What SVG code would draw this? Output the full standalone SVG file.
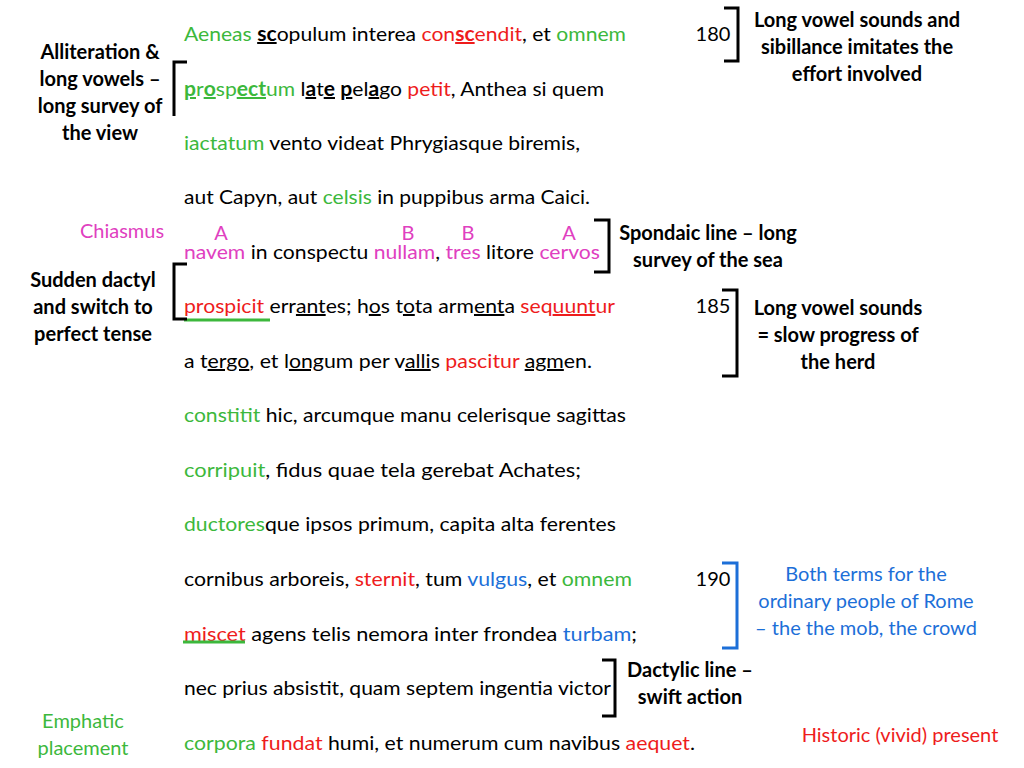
<svg xmlns="http://www.w3.org/2000/svg" width="1024" height="768" viewBox="0 0 1024 768">
<style>
text{font-family:Lato,"Open Sans",sans-serif;font-size:20px;fill:#000}
.g{fill:#3cb83c}.r{fill:#ee1c1c}.b{fill:#1c6fd8}.m{fill:#e040c0}
.u{text-decoration:underline}.bo{font-weight:bold}
.n{font-weight:bold;text-anchor:middle}
.br{fill:none;stroke:#000;stroke-width:3}
</style>
<rect width="1024" height="768" fill="#fff"/>
<g id="poem">
<text x="184" y="41" textLength="442" lengthAdjust="spacingAndGlyphs"><tspan class="g">Aeneas </tspan><tspan class="u bo">sc</tspan>opulum interea <tspan class="r">con</tspan><tspan class="r u bo">sc</tspan><tspan class="r">endit</tspan>, et <tspan class="g">omnem</tspan></text>
<text x="184" y="96" textLength="420" lengthAdjust="spacingAndGlyphs"><tspan class="g u bo">p</tspan><tspan class="g">r</tspan><tspan class="g u bo">o</tspan><tspan class="g">sp</tspan><tspan class="g u bo">ect</tspan><tspan class="g">um</tspan> l<tspan class="u bo">a</tspan>t<tspan class="u bo">e</tspan> <tspan class="u bo">p</tspan>el<tspan class="u bo">a</tspan>go <tspan class="r">petit</tspan>, Anthea si quem</text>
<text x="184" y="150" textLength="396" lengthAdjust="spacingAndGlyphs"><tspan class="g">iactatum</tspan> vento videat Phrygiasque biremis,</text>
<text x="184" y="204" textLength="406" lengthAdjust="spacingAndGlyphs">aut Capyn, aut <tspan class="g">celsis</tspan> in puppibus arma Caici.</text>
<text x="184" y="259" textLength="416" lengthAdjust="spacingAndGlyphs"><tspan class="m">navem</tspan> in conspectu <tspan class="m">nullam</tspan>, <tspan class="m">tres</tspan> litore <tspan class="m">cervos</tspan></text>
<text x="184" y="313" textLength="431" lengthAdjust="spacingAndGlyphs"><tspan class="r">prospicit </tspan>err<tspan class="u">ant</tspan>es; h<tspan class="u">o</tspan>s t<tspan class="u">o</tspan>ta arm<tspan class="u">ent</tspan>a <tspan class="r">seq</tspan><tspan class="r u">uunt</tspan><tspan class="r">ur</tspan></text>
<text x="184" y="368" textLength="408" lengthAdjust="spacingAndGlyphs">a t<tspan class="u">ergo</tspan>, et l<tspan class="u">ong</tspan>um per v<tspan class="u">alli</tspan>s <tspan class="r">pascitur</tspan> <tspan class="u">agm</tspan>en.</text>
<text x="184" y="422" textLength="442" lengthAdjust="spacingAndGlyphs"><tspan class="g">constitit</tspan> hic, arcumque manu celerisque sagittas</text>
<text x="184" y="477" textLength="397" lengthAdjust="spacingAndGlyphs"><tspan class="g">corripuit</tspan>, fidus quae tela gerebat Achates;</text>
<text x="184" y="531" textLength="432" lengthAdjust="spacingAndGlyphs"><tspan class="g">ductores</tspan>que ipsos primum, capita alta ferentes</text>
<text x="184" y="586" textLength="448" lengthAdjust="spacingAndGlyphs">cornibus arboreis, <tspan class="r">sternit</tspan>, tum <tspan class="b">vulgus</tspan>, et <tspan class="g">omnem</tspan></text>
<text x="184" y="641" textLength="453" lengthAdjust="spacingAndGlyphs"><tspan class="r">miscet</tspan> agens telis nemora inter frondea <tspan class="b">turbam</tspan>;</text>
<text x="184" y="695" textLength="427" lengthAdjust="spacingAndGlyphs">nec prius absistit, quam septem ingentia victor</text>
<text x="184" y="750" textLength="511" lengthAdjust="spacingAndGlyphs"><tspan class="g">corpora</tspan> <tspan class="r">fundat</tspan> humi, et numerum cum navibus <tspan class="r">aequet</tspan>.</text>
</g>
<g id="marks">
<line x1="184" y1="320" x2="270" y2="320" stroke="#3cb83c" stroke-width="3"/>
<line x1="183" y1="642" x2="245" y2="642" stroke="#3cb83c" stroke-width="3"/>
<text class="m" x="221" y="240" text-anchor="middle">A</text>
<text class="m" x="408" y="240" text-anchor="middle">B</text>
<text class="m" x="468" y="240" text-anchor="middle">B</text>
<text class="m" x="569" y="240" text-anchor="middle">A</text>
<text x="713" y="41" text-anchor="middle">180</text>
<text x="713" y="313" text-anchor="middle">185</text>
<text x="713" y="586" text-anchor="middle">190</text>
</g>
<g id="connectors">
<path class="br" d="M187,62 H174 V116"/>
<path class="br" d="M187,264 H174 V319 H187"/>
<path class="br" d="M724,8 H738 V61 H724"/>
<path class="br" d="M594,220 H609 V272 H594"/>
<path class="br" d="M722,290 H737 V376 H722"/>
<path class="br" d="M722,563 H737 V648 H722" style="stroke:#1c6fd8"/>
<path class="br" d="M602,660 H615 V716 H602"/>
</g>
<g id="n1"><text class="n" x="100" y="59">Alliteration &amp;</text><text class="n" x="100" y="86">long vowels –</text><text class="n" x="100" y="113">long survey of</text><text class="n" x="100" y="140">the view</text></g>
<g id="n2"><text class="n" x="857" y="27">Long vowel sounds and</text><text class="n" x="857" y="54">sibillance imitates the</text><text class="n" x="857" y="81">effort involved</text></g>
<g id="n3"><text class="m" x="122" y="238" text-anchor="middle">Chiasmus</text></g>
<g id="n4"><text class="n" x="708" y="240">Spondaic line – long</text><text class="n" x="708" y="267">survey of the sea</text></g>
<g id="n5"><text class="n" x="93" y="287">Sudden dactyl</text><text class="n" x="93" y="314">and switch to</text><text class="n" x="93" y="341">perfect tense</text></g>
<g id="n6"><text class="n" x="838" y="315">Long vowel sounds</text><text class="n" x="838" y="342">= slow progress of</text><text class="n" x="838" y="369">the herd</text></g>
<g id="n7"><text class="b" x="866" y="581" text-anchor="middle">Both terms for the</text><text class="b" x="866" y="608" text-anchor="middle">ordinary people of Rome</text><text class="b" x="866" y="635" text-anchor="middle">– the the mob, the crowd</text></g>
<g id="n8"><text class="n" x="690" y="677">Dactylic line –</text><text class="n" x="690" y="704">swift action</text></g>
<g id="n9"><text class="g" x="83" y="728" text-anchor="middle">Emphatic</text><text class="g" x="83" y="755" text-anchor="middle">placement</text></g>
<g id="n10"><text class="r" x="900" y="742" text-anchor="middle">Historic (vivid) present</text></g>
</svg>
